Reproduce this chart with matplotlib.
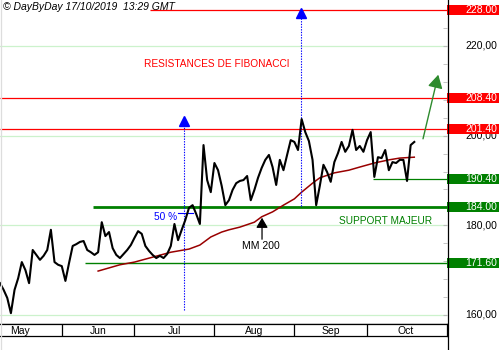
import matplotlib
matplotlib.use('Agg')
import matplotlib.pyplot as plt
import matplotlib.transforms as mtransforms
from matplotlib.lines import Line2D
from matplotlib.patches import Rectangle
from matplotlib.ticker import MultipleLocator

plt.rcParams['font.family'] = ['Liberation Sans', 'DejaVu Sans']

# ---------------- data ----------------
close = [167.1, 165.6, 163.8, 160.4, 165.6, 168.2, 171.8, 170.0, 167.1, 174.5,
         173.4, 172.3, 173.2, 174.5, 179.0, 171.8, 171.2, 170.9, 167.6, 171.6,
         175.4, 175.8, 176.3, 176.5, 174.5, 174.0, 173.4, 174.0, 180.7, 177.6,
         178.5, 174.9, 173.4, 172.7, 173.6, 174.5, 175.6, 177.2, 178.7, 178.1,
         175.4, 174.3, 173.4, 172.7, 173.2, 172.7, 173.6, 175.4, 180.3, 176.7,
         179.0, 181.2, 183.9, 184.5, 182.5, 180.3,
         197.9, 190.1, 187.4, 193.9, 192.3, 188.8, 184.5, 185.6, 187.9, 189.4,
         189.9, 190.1, 191.0, 185.6, 187.9, 190.6, 192.8, 194.6, 195.7, 193.0,
         189.0, 194.6, 192.3, 195.7, 199.0, 198.6, 196.8, 203.7, 200.8, 198.8,
         194.6, 184.5, 188.8, 193.5, 191.9, 189.7, 194.1, 196.1, 198.6, 196.4,
         197.7, 201.3, 196.8, 197.7, 196.4, 199.0, 200.8, 190.8, 195.2, 195.0,
         196.8, 192.3, 194.1, 193.9, 194.6, 194.6, 189.9, 197.9, 198.6]
days = list(range(len(close)))

ma_days = [27, 30, 33, 37, 42, 47, 52, 55, 58, 61, 63, 66, 70, 72, 75, 78,
           81, 83, 86, 88, 92, 96, 99, 103, 107, 110, 114]
ma_values = [169.8, 170.5, 171.2, 171.8, 172.9, 174.0, 174.7, 175.6, 177.4,
             178.5, 179.0, 179.6, 180.7, 181.9, 183.0, 184.5, 185.9, 187.4,
             189.4, 190.6, 191.7, 192.3, 193.0, 193.9, 194.6, 195.0, 195.2]

months = ['May', 'Jun', 'Jul', 'Aug', 'Sep', 'Oct']
month_centers = [5.5, 27, 48, 70, 91, 111.5]
month_bounds = [17, 37, 59, 81, 101]

level_values = [228.00, 208.40, 201.40, 190.40, 184.00, 171.60]
level_labels = ['228.00', '208.40', '201.40', '190.40', '184.00', '171.60']
level_colors = ['#ff0000', '#ff0000', '#ff0000', '#008000', '#008000', '#008000']
level_starts = [41.3, 0, 0, 102.6, 25.6, 23.4]
level_widths = [0.9, 0.9, 0.9, 0.9, 2.0, 1.0]

grid_values = [160, 180, 200, 220]
grid_labels = ['160,00', '180,00', '200,00', '220,00']

XMAX = 123.0
YMIN, YMAX = 157.99, 230.26

# ---------------- figure ----------------
fig = plt.figure(figsize=(5, 3.5), dpi=100)
fig.patch.set_facecolor('white')
ax = fig.add_axes([0, 26 / 350, 447 / 500, 324 / 350])
ax.set_xlim(0, XMAX)
ax.set_ylim(YMIN, YMAX)
ax.set_xticks([])
for s in ['left', 'top', 'right']:
    ax.spines[s].set_visible(False)
ax.spines['bottom'].set_color('black')
ax.spines['bottom'].set_linewidth(0.9)

# grid lines
for g in grid_values:
    ax.axhline(g, color='#ccf2cc', lw=0.9, zorder=1)

# minor ticks on right
ax.yaxis.set_minor_locator(MultipleLocator(4))
ax.yaxis.set_major_locator(MultipleLocator(20))
ax.yaxis.tick_right()
ax.tick_params(axis='y', which='both', direction='in', length=3, color='#bbbbbb',
               labelright=False, labelleft=False)

# levels
for v, c, s, w in zip(level_values, level_colors, level_starts, level_widths):
    ax.plot([s, XMAX], [v, v], color=c, lw=w, zorder=2, solid_capstyle='butt')

# MA 200
ax.plot(ma_days, ma_values, color='#990000', lw=1.1, zorder=3)

# price
ax.plot(days, close, color='black', lw=1.5, zorder=4)

# blue dotted projections
ax.plot([50.6, 50.6], [161.1, 202.8], color='#0000ff', lw=0.8, ls=(0, (1.2, 1.2)), zorder=3)
ax.plot([50.6], [203.3], marker='^', color='#0000ff', ms=7, zorder=5)
ax.plot([82.8, 82.8], [184.3, 226.6], color='#0000ff', lw=0.8, ls=(0, (1.2, 1.2)), zorder=3)
ax.plot([82.8], [227.4], marker='^', color='#0000ff', ms=7, zorder=5)

# 50 % marker
ax.plot([49.0, 53.1], [182.75, 182.75], color='#0000ff', lw=0.8, zorder=3)
ax.text(42.5, 181.9, '50 %', color='#0000ff', fontsize=7.3, ha='left', va='center', zorder=6)

# MM 200 arrow
ax.annotate('', xy=(72.1, 181.7), xytext=(72.1, 176.9),
            arrowprops=dict(arrowstyle='-|>,head_length=0.6,head_width=0.35',
                            color='black', lw=0.9, mutation_scale=10, shrinkA=0, shrinkB=0),
            zorder=6)
ax.text(71.8, 175.3, 'MM 200', color='black', fontsize=7.5, ha='center', va='center', zorder=6)

# green arrow
ax.annotate('', xy=(120.6, 213.6), xytext=(116.4, 199.3),
            arrowprops=dict(arrowstyle='-|>,head_length=0.8,head_width=0.45',
                            color='#2e8b2e', lw=1.0, mutation_scale=10, shrinkA=0, shrinkB=0),
            zorder=6)

# annotations
ax.text(59.7, 216.0, 'RESISTANCES DE FIBONACCI', color='#ff0000', fontsize=7.3,
        ha='center', va='center', zorder=6)
ax.text(106.0, 181.0, 'SUPPORT MAJEUR', color='#008000', fontsize=7.3,
        ha='center', va='center', zorder=6)

# right-side labels
trans = mtransforms.blended_transform_factory(ax.transAxes, ax.transData)
for g, lab in zip(grid_values, grid_labels):
    ax.text(497 / 447, g, lab, transform=trans, ha='right', va='center',
            fontsize=7.5, color='black', clip_on=False, zorder=7)
box_h = 10 / 4.483
for v, lab, c in zip(level_values, level_labels, level_colors):
    ax.add_patch(Rectangle((1.0, v - box_h / 2), 52 / 447, box_h, transform=trans,
                           facecolor=c, edgecolor='none', clip_on=False, zorder=8))
    ax.text(497 / 447, v, lab, transform=trans, ha='right', va='center',
            fontsize=7.5, color='white', clip_on=False, zorder=9)

# month band
axm = fig.add_axes([0, 14 / 350, 447 / 500, 12 / 350])
axm.set_xlim(0, XMAX)
axm.set_ylim(0, 1)
axm.set_xticks([])
axm.set_yticks([])
axm.spines['left'].set_visible(False)
for s in ['top', 'bottom', 'right']:
    axm.spines[s].set_color('black')
    axm.spines[s].set_linewidth(0.9)
for b in month_bounds:
    axm.axvline(b, color='black', lw=0.9)
for m, c in zip(months, month_centers):
    axm.text(c, 0.45, m, ha='center', va='center', fontsize=7.5, color='black')

# right border and left faint border
fig.add_artist(Line2D([447.5 / 500, 447.5 / 500], [0, 1], color='black', lw=0.9))
fig.add_artist(Line2D([0.8 / 500, 0.8 / 500], [0, 1], color='#dddddd', lw=0.9))

# header
fig.text(3 / 500, 1 - 7 / 350, '\u00a9 DayByDay 17/10/2019  13:29 GMT', style='italic',
         fontsize=7.5, ha='left', va='center', color='black')

fig.savefig('out.png', dpi=100, facecolor='white')
